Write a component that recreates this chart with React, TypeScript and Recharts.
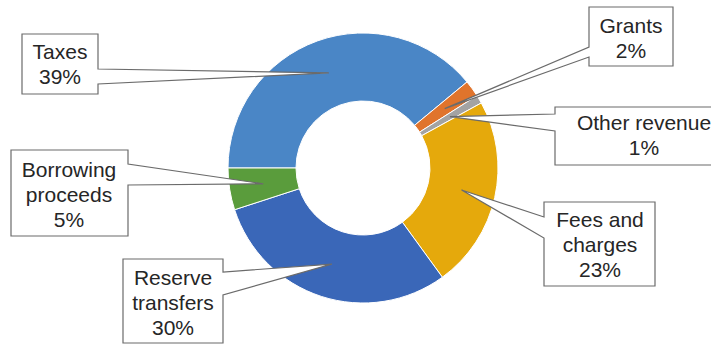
import { PieChart, Pie, Cell } from 'recharts'

// revenue shares, percent
const categories = ['Taxes', 'Grants', 'Other revenue', 'Fees and charges', 'Reserve transfers', 'Borrowing proceeds']
const shares = [39, 2, 1, 23, 30, 5]
// how each label breaks into lines
const labelLines = [['Taxes'], ['Grants'], ['Other revenue'], ['Fees and', 'charges'], ['Reserve', 'transfers'], ['Borrowing', 'proceeds']]
const colors = ['#4a86c6', '#e0742c', '#a3a3a3', '#e5a90c', '#3a67b8', '#5a9c3c']

const data = categories.map((name, i) => ({ name, value: shares[i] }))

// callout boxes: x, y, w, h, pointer side and where the pointer meets the box
const callouts = [
  { x: 22, y: 34, w: 76, h: 60, side: 'right', b1: 69, b2: 84, tx: 60, ty: 59 },
  { x: 589, y: 7, w: 84, h: 59, side: 'left', b1: 47, b2: 57, tx: 631, ty: 33 },
  { x: 555, y: 107, w: 180, h: 58, side: 'left', b1: 114, b2: 131, tx: 644, ty: 130 },
  { x: 544, y: 202, w: 111, h: 84, side: 'left', b1: 217, b2: 238, tx: 600, ty: 227 },
  { x: 123, y: 259, w: 100, h: 84, side: 'right', b1: 272, b2: 295, tx: 173, ty: 285 },
  { x: 11, y: 150, w: 117, h: 86, side: 'right', b1: 164, b2: 185, tx: 69, ty: 177 },
]

const RAD = Math.PI / 180

function renderCallout(props: any) {
  const { cx, cy, midAngle, innerRadius, outerRadius, index, value } = props
  const c = callouts[index]
  const r = (innerRadius + outerRadius) / 2
  const px = cx + r * Math.cos(-midAngle * RAD)
  const py = cy + r * Math.sin(-midAngle * RAD)
  const { x, y, w, h } = c
  const d =
    c.side === 'right'
      ? `M${x},${y} H${x + w} V${c.b1} L${px},${py} L${x + w},${c.b2} V${y + h} H${x} Z`
      : `M${x},${y} H${x + w} V${y + h} H${x} V${c.b2} L${px},${py} L${x},${c.b1} Z`
  const lines = [...labelLines[index], `${value}%`]
  return (
    <g key={`callout-${index}`}>
      <path d={d} fill="#fff" stroke="#6b6b6b" strokeWidth={1.2} />
      {lines.map((t, i) => (
        <text
          key={i}
          x={c.tx}
          y={c.ty + i * 25}
          textAnchor="middle"
          fontSize={21}
          fontFamily="'Liberation Sans', Arial, sans-serif"
          fill="#262626"
        >
          {t}
        </text>
      ))}
    </g>
  )
}

export default function App() {
  return (
    <div style={{ position: 'absolute', left: 0, top: 0, width: 711, height: 345, background: '#fff' }}>
      <PieChart width={711} height={345} margin={{ top: 0, right: 0, bottom: 0, left: 0 }}>
        <Pie
          data={data}
          dataKey="value"
          nameKey="name"
          cx={363}
          cy={168}
          innerRadius={67}
          outerRadius={135}
          startAngle={180}
          endAngle={-180}
          stroke="#fff"
          strokeWidth={1}
          labelLine={false}
          label={renderCallout}
          isAnimationActive={false}
        >
          {data.map((entry, index) => (
            <Cell key={`cell-${index}`} fill={colors[index]} />
          ))}
        </Pie>
      </PieChart>
    </div>
  )
}
